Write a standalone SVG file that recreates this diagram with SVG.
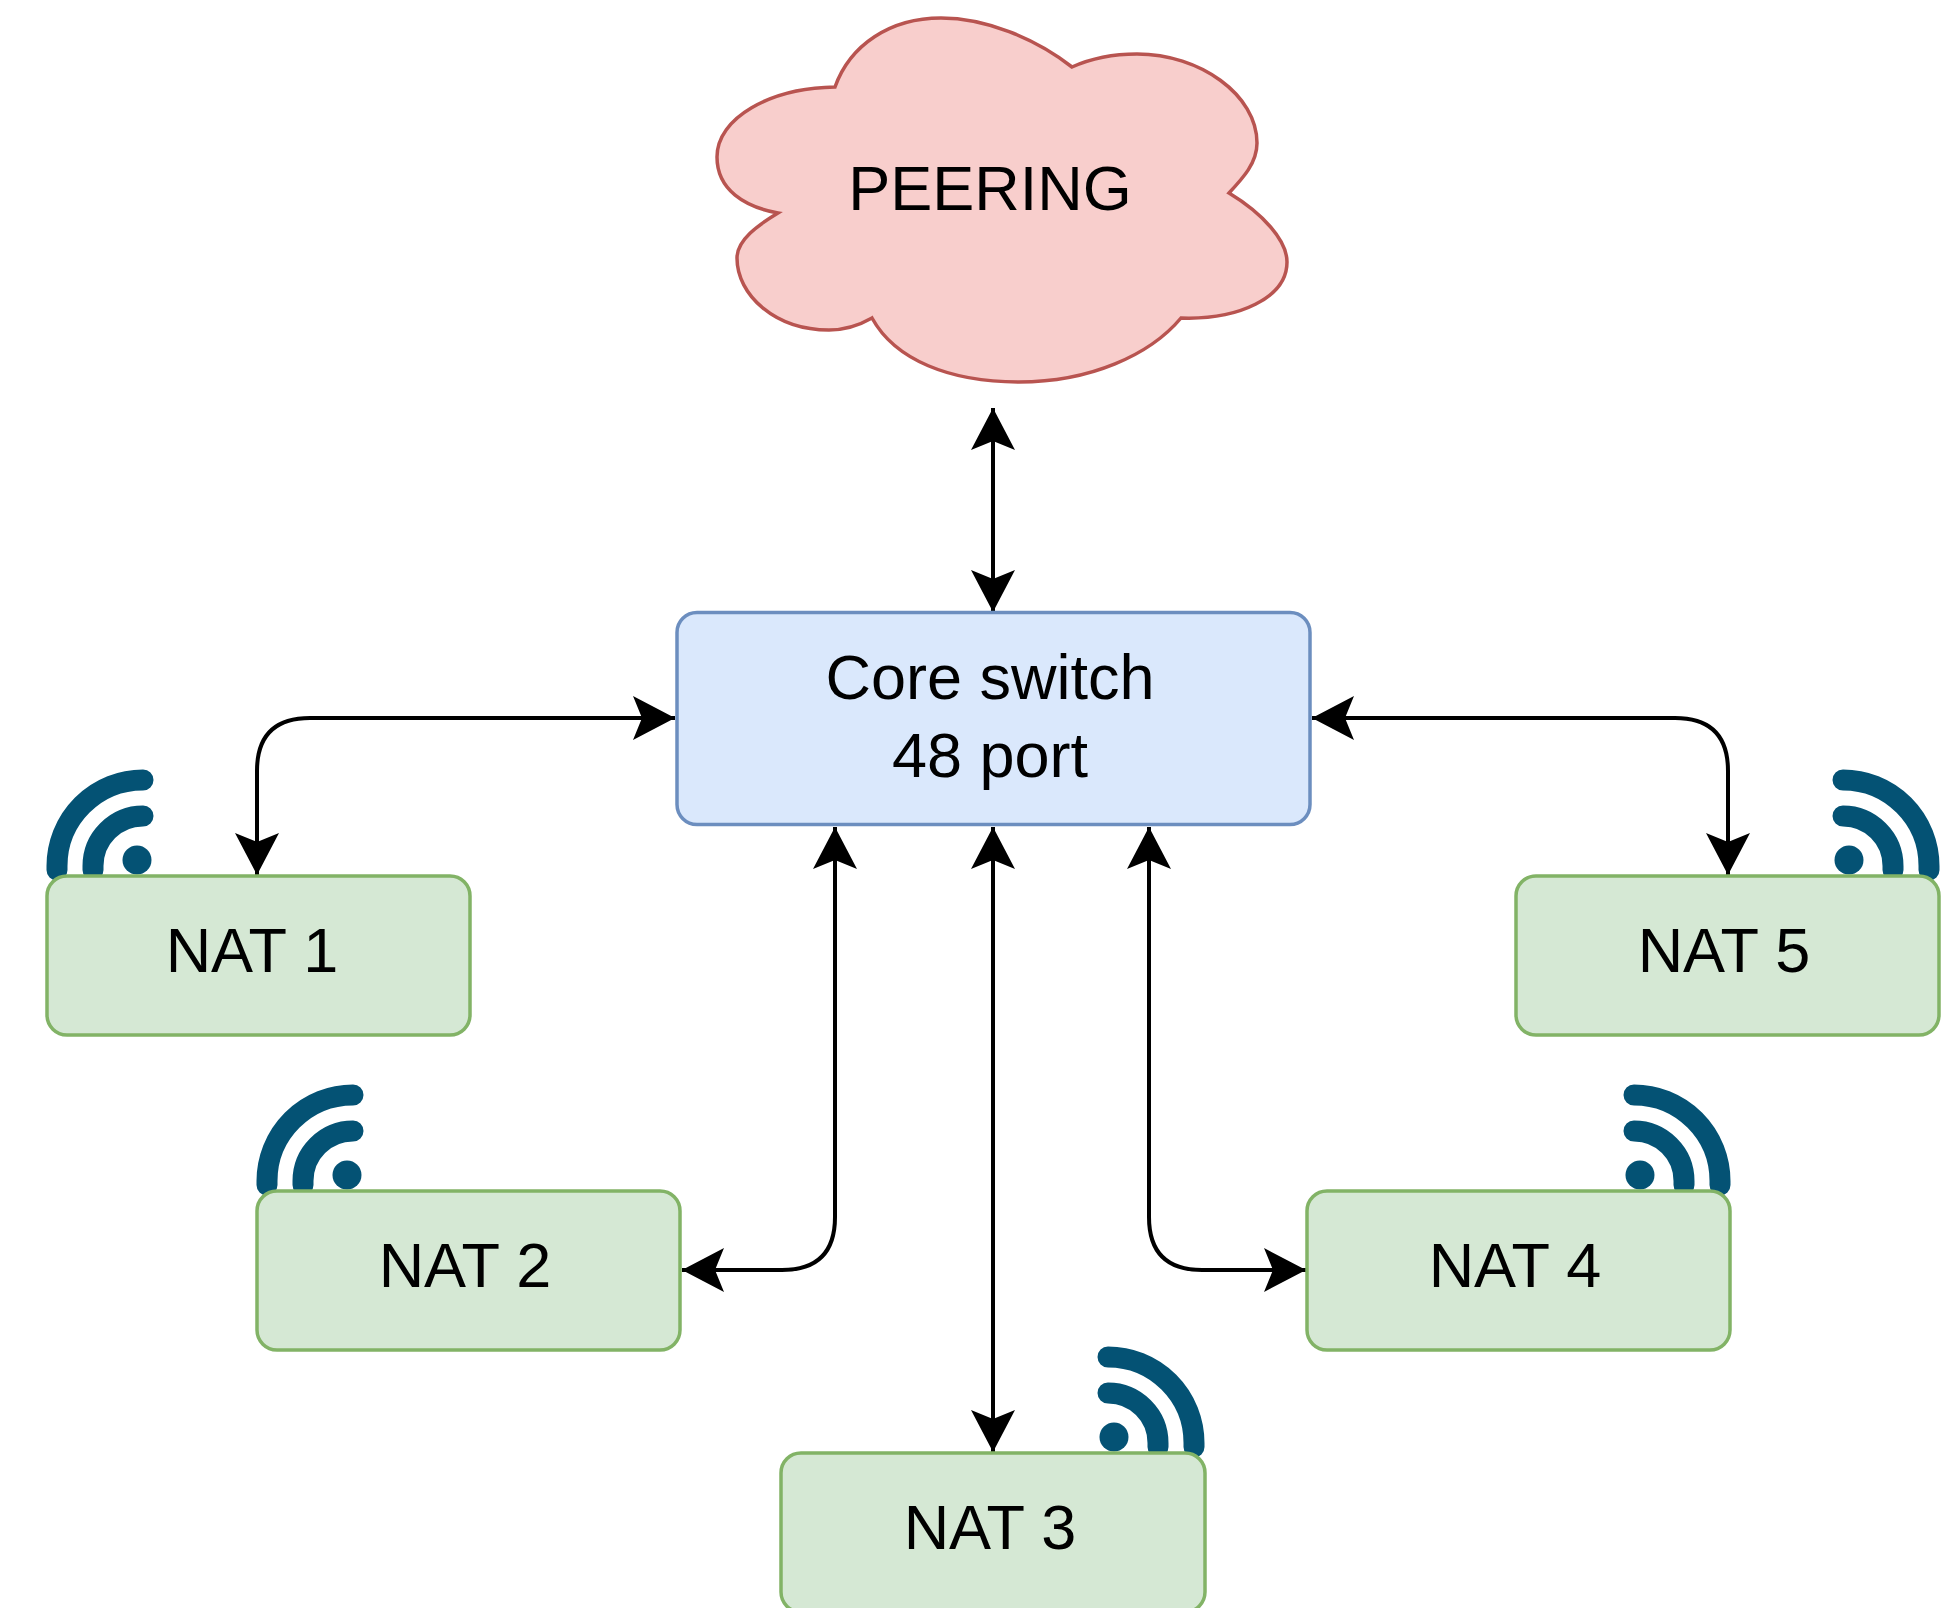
<svg xmlns="http://www.w3.org/2000/svg" xmlns:xlink="http://www.w3.org/1999/xlink" width="1956" height="1608" viewBox="0 0 1956 1608">
<style>
text{font-family:"Liberation Sans",Arial,sans-serif;font-size:63px;fill:#000;text-anchor:middle}
.nat{fill:#d5e8d4;stroke:#82b366;stroke-width:3.500}
.conn{fill:none;stroke:#000;stroke-width:4;marker-start:url(#arr);marker-end:url(#arr)}
.wifi path{fill:none;stroke:#045274;stroke-width:21;stroke-linecap:round}
.wifi circle{fill:#045274}
</style>
<defs>
<marker id="arr" markerUnits="userSpaceOnUse" viewBox="-44 -24 46 48" refX="0" refY="0" markerWidth="46" markerHeight="48" orient="auto-start-reverse">
<path d="M0,0 L-42,-22 L-33,0 L-42,22 Z" fill="#000"/>
</marker>
<g id="wifiL" class="wifi"><path d="M96,-96 A86,86 0 0 0 10,-10 V-6"/><path d="M96,-60 A50,50 0 0 0 46,-10 V-6"/><circle cx="90" cy="-16" r="14.500"/></g>
<g id="wifiR" class="wifi"><path d="M327,-96 A86,86 0 0 1 413,-10 V-6"/><path d="M327,-60 A50,50 0 0 1 377,-10 V-6"/><circle cx="333" cy="-16" r="14.500"/></g>
</defs>
<rect width="1956" height="1608" fill="#fff"/>
<g id="connectors">
<path class="conn" d="M993,408 V612"/>
<path class="conn" d="M675,718 H310 Q257,718 257,771 V875"/>
<path class="conn" d="M1312,718 H1675 Q1728,718 1728,771 V875"/>
<path class="conn" d="M835,827 V1217 Q835,1270 782,1270 H682"/>
<path class="conn" d="M993,827 V1452"/>
<path class="conn" d="M1149,827 V1217 Q1149,1270 1202,1270 H1306"/>
</g>
<g id="peering">
<path d="M835,87 C850,45 890,18 941,18 C985,18 1035,38 1072,67 C1092,58 1115,54 1137,54 C1200,54 1257,95 1257,143 C1257,163 1243,178 1229,193 C1262,213 1287,240 1287,262 C1287,298 1238,320 1181,318 C1150,355 1090,382 1019,382 C950,382 895,360 872,318 C858,326 845,330 829,330 C775,330 737,295 737,258 C737,240 758,225 778,213 C745,207 717,190 717,157 C717,118 770,88 835,87 Z" fill="#f8cecc" stroke="#b85450" stroke-width="3.500"/>
<text x="990" y="210">PEERING</text>
</g>
<g id="core-switch">
<rect x="677" y="612.500" width="633" height="212" rx="20" fill="#dae8fc" stroke="#6c8ebf" stroke-width="3.500"/>
<text x="990" y="699">Core switch</text>
<text x="990" y="777">48 port</text>
</g>
<g id="nat-1"><use xlink:href="#wifiL" href="#wifiL" transform="translate(47,876)"/><rect class="nat" x="47" y="876" width="423" height="159" rx="20"/><text x="252" y="972">NAT 1</text></g>
<g id="nat-2"><use xlink:href="#wifiL" href="#wifiL" transform="translate(257,1191)"/><rect class="nat" x="257" y="1191" width="423" height="159" rx="20"/><text x="465" y="1287">NAT 2</text></g>
<g id="nat-3"><use xlink:href="#wifiR" href="#wifiR" transform="translate(781,1453)"/><rect class="nat" x="781" y="1453" width="424" height="159" rx="20"/><text x="990" y="1549">NAT 3</text></g>
<g id="nat-4"><use xlink:href="#wifiR" href="#wifiR" transform="translate(1307,1191)"/><rect class="nat" x="1307" y="1191" width="423" height="159" rx="20"/><text x="1515" y="1287">NAT 4</text></g>
<g id="nat-5"><use xlink:href="#wifiR" href="#wifiR" transform="translate(1516,876)"/><rect class="nat" x="1516" y="876" width="423" height="159" rx="20"/><text x="1724" y="972">NAT 5</text></g>
</svg>
